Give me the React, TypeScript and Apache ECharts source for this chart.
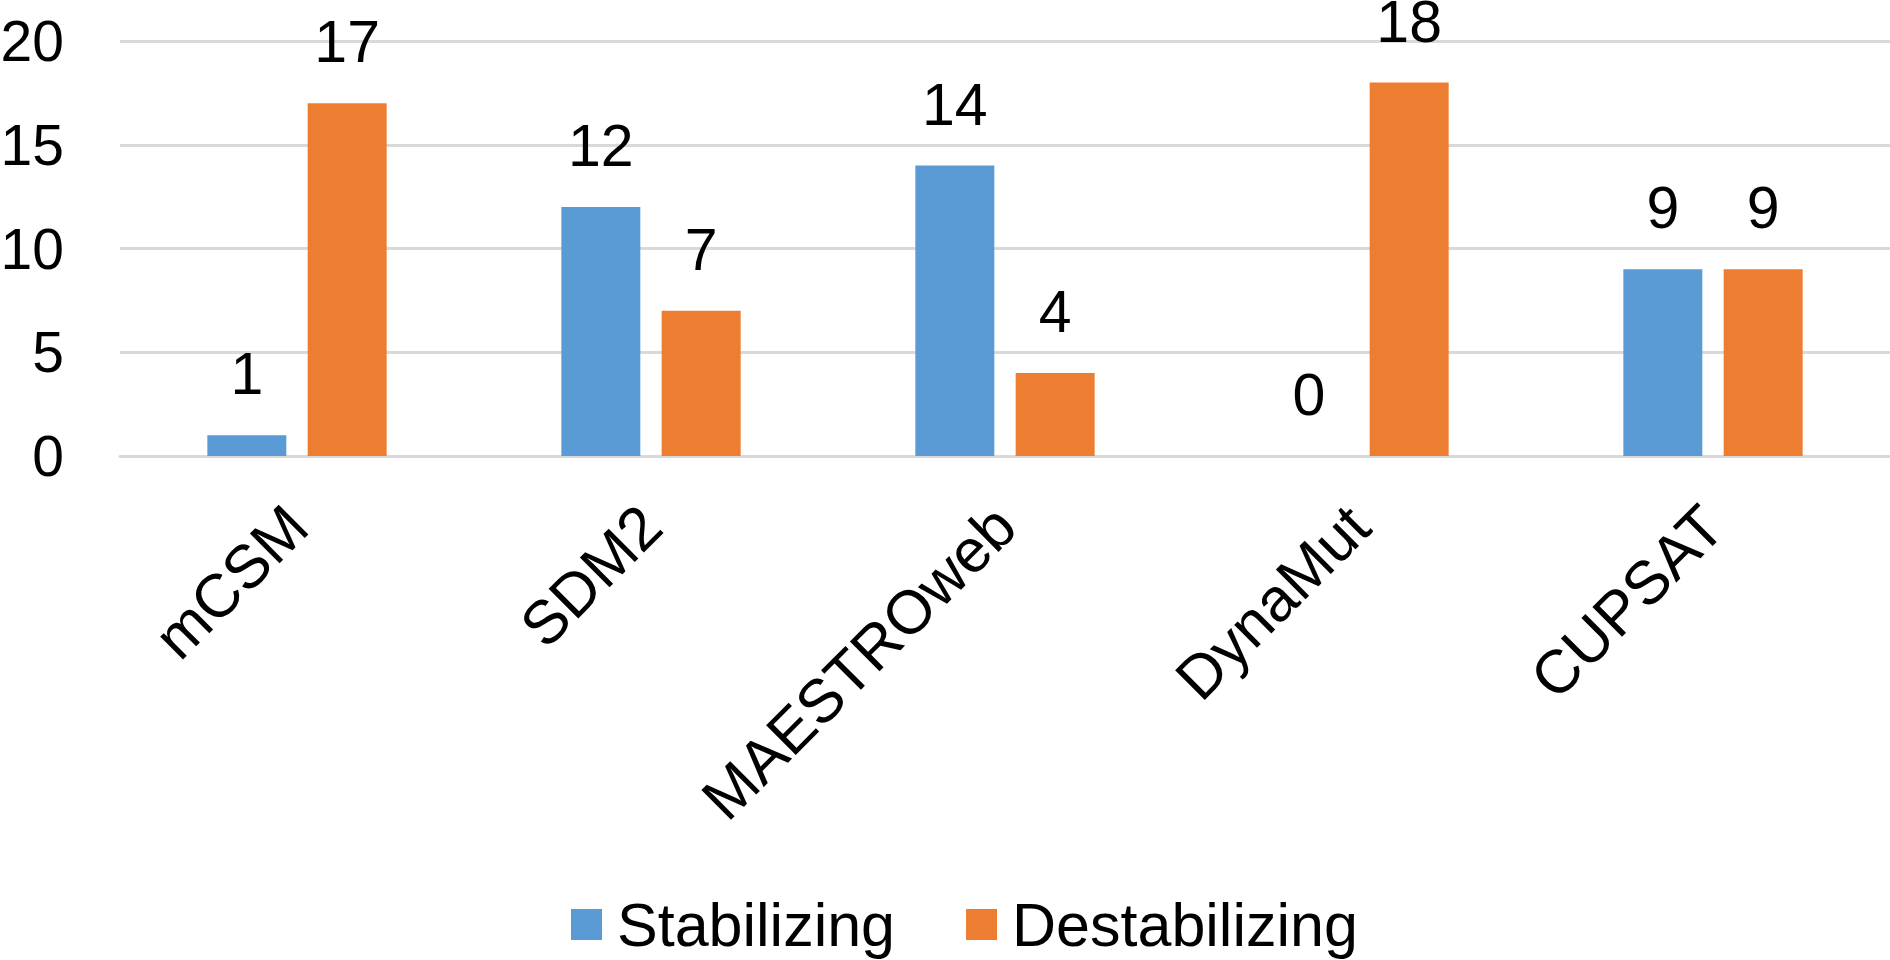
import React, { useEffect, useRef } from "react";
import * as echarts from "echarts";

const categories = ["mCSM", "SDM2", "MAESTROweb", "DynaMut", "CUPSAT"];
const stabilizing = [1, 12, 14, 0, 9];
const destabilizing = [17, 7, 4, 18, 9];
const seriesNames = ["Stabilizing", "Destabilizing"];
const yTicks = { min: 0, max: 20, interval: 5 };

const FONT = "'Liberation Sans', Arial, sans-serif";

export default function App() {
  const ref = useRef<HTMLDivElement>(null);
  useEffect(() => {
    if (!ref.current) return;
    const chart = echarts.init(ref.current, undefined, { renderer: "svg" });
    const labelStyle = {
      show: true,
      position: "top" as const,
      distance: 40,
      fontSize: 59,
      lineHeight: 42,
      color: "#000",
      fontFamily: FONT,
    };
    chart.setOption({
      animation: false,
      backgroundColor: "#ffffff",
      textStyle: { fontFamily: FONT },
      grid: {
        left: 120,
        right: 0,
        top: 41,
        bottom: 504,
        containLabel: false,
        outerBoundsMode: "none",
      },
      legend: {
        data: seriesNames,
        top: 894,
        left: 571,
        padding: 0,
        itemWidth: 31,
        itemHeight: 31,
        itemGap: 71,
        icon: "rect",
        textStyle: {
          fontSize: 61,
          color: "#000",
          fontFamily: FONT,
          padding: [0, 0, 0, 10],
        },
      },
      xAxis: {
        type: "category",
        data: categories,
        axisLine: { show: true, lineStyle: { color: "#d9d9d9", width: 3 } },
        axisTick: { show: false },
        axisLabel: {
          rotate: 45,
          margin: 60,
          fontSize: 61,
          color: "#000",
          fontFamily: FONT,
          interval: 0,
        },
      },
      yAxis: {
        type: "value",
        min: yTicks.min,
        max: yTicks.max,
        interval: yTicks.interval,
        axisLine: { show: false },
        axisTick: { show: false },
        splitLine: { lineStyle: { color: "#d9d9d9", width: 3 } },
        axisLabel: {
          margin: 56,
          fontSize: 57,
          color: "#000",
          fontFamily: FONT,
        },
      },
      series: [
        {
          name: seriesNames[0],
          type: "bar",
          data: stabilizing,
          barWidth: 79,
          barGap: "27%",
          itemStyle: { color: "#5b9bd5" },
          label: labelStyle,
        },
        {
          name: seriesNames[1],
          type: "bar",
          data: destabilizing,
          barWidth: 79,
          barGap: "27%",
          itemStyle: { color: "#ed7d31" },
          label: labelStyle,
        },
      ],
    });
    return () => chart.dispose();
  }, []);
  return (
    <div
      ref={ref}
      style={{ position: "fixed", left: 0, top: 0, width: 1890, height: 960 }}
    />
  );
}
